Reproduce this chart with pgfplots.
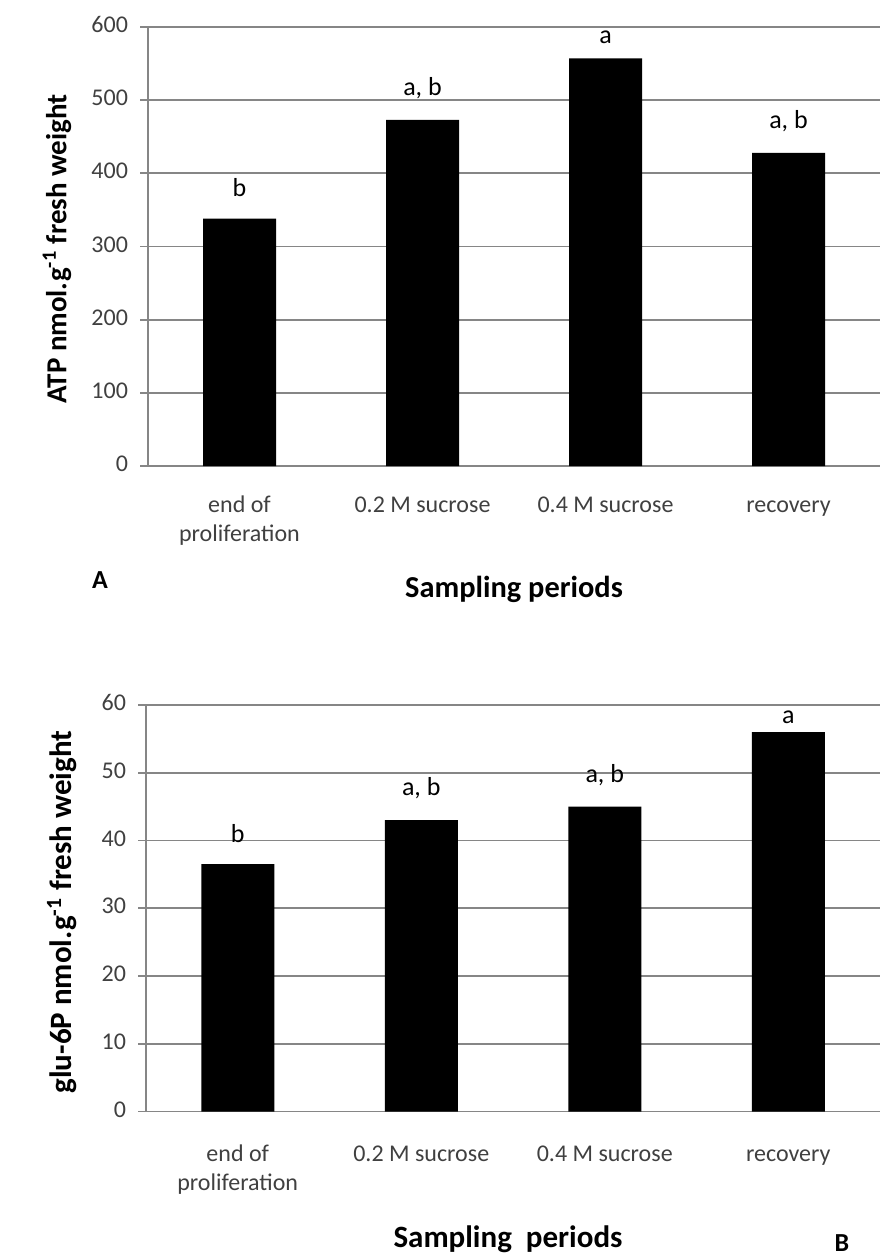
\documentclass[border=0pt]{standalone}
\usepackage{fontspec}
\setmainfont{Carlito}
\usepackage{pgfplots}
\pgfplotsset{compat=1.18}
\definecolor{gridc}{HTML}{868686}
\definecolor{tickc}{HTML}{404040}
\pgfplotsset{
  myax/.style={
    scale only axis,
    xmin=-0.5, xmax=3.5, ymin=0,
    axis x line=bottom, axis y line=left,
    axis line style={-, gridc, line width=0.9pt},
    ymajorgrids, grid style={gridc, line width=0.9pt},
    xtick={0,1,2,3},
    xticklabels={{end of\\proliferation},{0.2 M sucrose},{0.4 M sucrose},{recovery}},
    typeset ticklabels with strut,
    x tick label style={align=center, font=\fontsize{12}{14.5}\selectfont, text=tickc, anchor=north},
    y tick label style={font=\fontsize{12}{14}\selectfont, text=tickc, xshift=-2.5pt},
    /pgf/number format/assume math mode=true,
    xtick style={draw=none},
    ytick style={gridc, line width=0.9pt},
    tick align=outside, major tick length=4pt,
    ybar, bar width=36.5pt,
    clip=false,
    point meta=explicit symbolic,
    nodes near coords,
    visualization depends on={\thisrow{off}\as\off},
    every node near coord/.append style={anchor=base, yshift=\off pt, font=\fontsize{13}{15}\selectfont, text=black},
  }
}
\begin{document}
\begin{tikzpicture}
\useasboundingbox (0pt,0pt) rectangle (442.5pt,-628pt);
\begin{axis}[myax, at={(74pt,-233pt)}, anchor=south west, width=366pt, height=219.5pt,
  ymax=600, ytick={0,100,...,600}, x tick label style={yshift=-5.5pt}]
\addplot[fill=black, draw=none] table[x=x, y=y, meta=lab, col sep=semicolon, row sep=\\]
  {x;y;lab;off\\ 0;338;b;11\\ 1;473;a, b;12\\ 2;557;a;7.5\\ 3;428;a, b;12\\};
\end{axis}
\node[rotate=90, font=\fontsize{14.5}{17}\selectfont\bfseries] at (28.5pt,-124.5pt) {ATP nmol.g\textsuperscript{-1} fresh weight};
\node[font=\fontsize{15.2}{18}\selectfont\bfseries] at (257pt,-294.5pt) {Sampling periods};
\node[font=\fontsize{13}{15}\selectfont\bfseries] at (50pt,-290pt) {A};
\begin{axis}[myax, at={(73pt,-555.75pt)}, anchor=south west, width=367pt, height=203.25pt,
  ymax=60, ytick={0,10,...,60}, x tick label style={yshift=-7.5pt}]
\addplot[fill=black, draw=none] table[x=x, y=y, meta=lab, col sep=semicolon, row sep=\\]
  {x;y;lab;off\\ 0;36.5;b;11\\ 1;43;a, b;12.5\\ 2;45;a, b;12\\ 3;56;a;4.5\\};
\end{axis}
\node[rotate=90, font=\fontsize{15.5}{18}\selectfont\bfseries] at (31pt,-456pt) {glu-6P nmol.g\textsuperscript{-1} fresh weight};
\node[font=\fontsize{15.5}{18}\selectfont\bfseries] at (254pt,-619.5pt) {Sampling\ \ periods};
\node[font=\fontsize{13}{15}\selectfont\bfseries] at (421pt,-621.5pt) {B};
\end{tikzpicture}
\end{document}
